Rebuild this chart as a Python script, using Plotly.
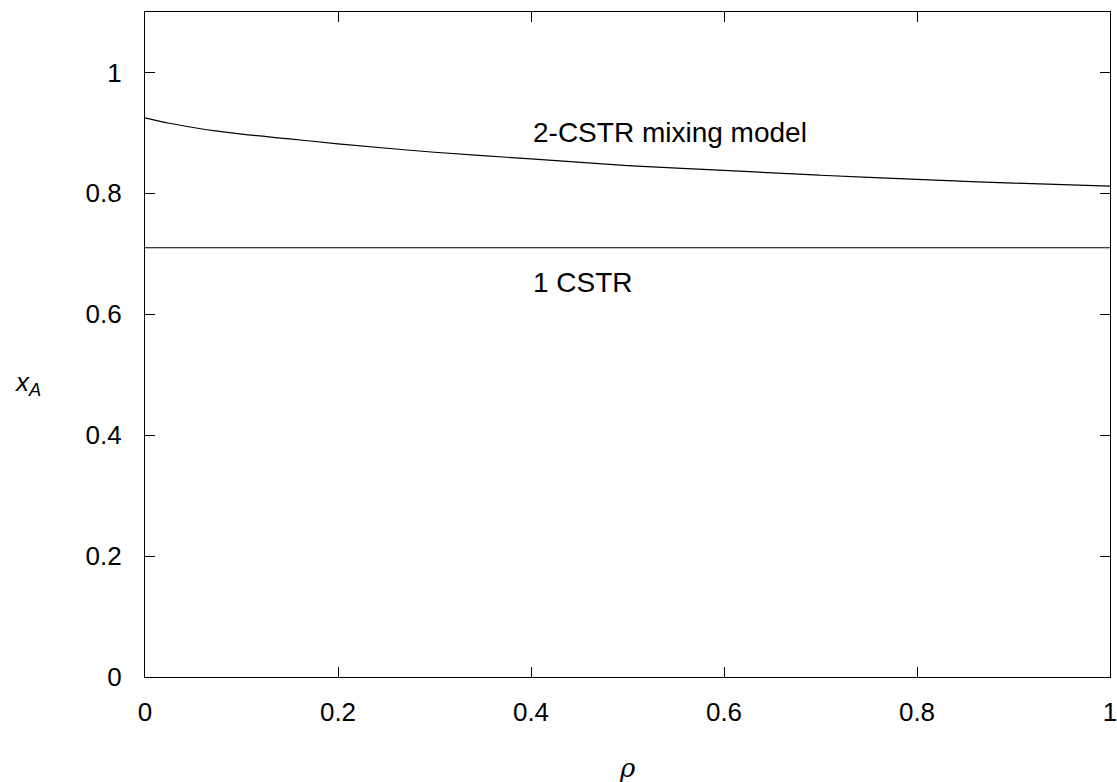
import plotly.graph_objects as go

# Data
rho = [0.0, 0.025, 0.05, 0.075, 0.1, 0.15, 0.2, 0.3, 0.4, 0.5, 0.6, 0.7, 0.8, 0.9, 1.0]
x_2cstr = [0.925, 0.916, 0.909, 0.903, 0.898, 0.890, 0.882, 0.868, 0.857, 0.846, 0.838, 0.830, 0.823, 0.817, 0.812]
rho_1 = [0.0, 1.0]
x_1cstr = [0.71, 0.71]

xticks = [0, 0.2, 0.4, 0.6, 0.8, 1]
xtick_labels = ["0", "0.2", "0.4", "0.6", "0.8", "1"]
yticks = [0, 0.2, 0.4, 0.6, 0.8, 1]
ytick_labels = ["0", "0.2", "0.4", "0.6", "0.8", "1"]

FONT = "Liberation Sans"

fig = go.Figure()
fig.add_trace(go.Scatter(x=rho, y=x_2cstr, mode="lines", line=dict(color="black", width=1.2, shape="spline"),
                         showlegend=False, hoverinfo="skip"))
fig.add_trace(go.Scatter(x=rho_1, y=x_1cstr, mode="lines", line=dict(color="black", width=1.2),
                         showlegend=False, hoverinfo="skip"))

fig.add_annotation(x=0.4, y=0.9, text="2-CSTR mixing model", showarrow=False, xanchor="left", yanchor="middle",
                   font=dict(family=FONT, size=28, color="black"))
fig.add_annotation(x=0.4, y=0.652, text="1 CSTR", showarrow=False, xanchor="left", yanchor="middle",
                   font=dict(family=FONT, size=28, color="black"))

# Axis titles
fig.add_annotation(x=-0.122, y=0.442, xref="paper", yref="paper", text="<i>x</i><sub><i>A</i></sub>", showarrow=False,
                   xanchor="center", yanchor="middle", font=dict(family=FONT, size=26, color="black"))
fig.add_annotation(x=0.5, y=-0.137, xref="paper", yref="paper", text="<i>ρ</i>", showarrow=False,
                   xanchor="center", yanchor="middle", font=dict(family="DejaVu Serif", size=26, color="black"))

axis_common = dict(showgrid=False, zeroline=False, showline=True, linecolor="black", linewidth=1.2,
                   mirror="allticks", ticks="inside", ticklen=10, tickcolor="black", tickwidth=1,
                   ticklabeloverflow="allow", automargin=False,
                   tickfont=dict(family=FONT, size=26, color="black"))

fig.update_xaxes(range=[0, 1], tickvals=xticks, ticktext=xtick_labels, ticklabelstandoff=12, **axis_common)
fig.update_yaxes(range=[0, 1.1], tickvals=yticks, ticktext=ytick_labels, ticklabelstandoff=17, **axis_common)

fig.update_layout(width=1117, height=782, margin=dict(l=145, r=7, t=12, b=105),
                  plot_bgcolor="white", paper_bgcolor="white")

# Remove the default page margin so the figure sits at the window's top-left corner
fig.write_html("out.html", config={"displayModeBar": False},
               post_script="document.body.style.margin='0';document.body.style.overflow='hidden';")
